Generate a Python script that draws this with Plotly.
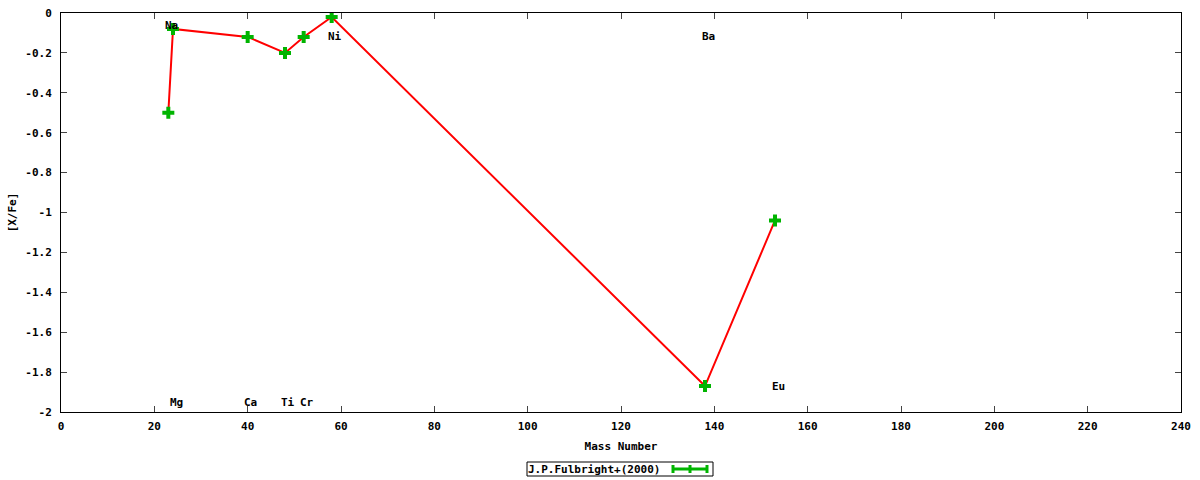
import plotly.graph_objects as go

# Data
elements = ["Na", "Mg", "Ca", "Ti", "Cr", "Ni", "Ba", "Eu"]
mass_number = [23, 24, 40, 48, 52, 58, 138, 153]
x_fe = [-0.50, -0.08, -0.12, -0.20, -0.12, -0.02, -1.87, -1.04]

label_x = [23, 24, 40, 48, 52, 58, 138, 153]
label_y = [-0.065, -1.95, -1.95, -1.95, -1.95, -0.12, -0.12, -1.87]

x_ticks = list(range(0, 241, 20))
y_ticks = [0, -0.2, -0.4, -0.6, -0.8, -1, -1.2, -1.4, -1.6, -1.8, -2]
y_tick_text = ["0", "-0.2", "-0.4", "-0.6", "-0.8", "-1", "-1.2", "-1.4", "-1.6", "-1.8", "-2"]

legend_label = "J.P.Fulbright+(2000)"

FONT = "DejaVu Sans Mono"
GREEN = "#00b400"

L, R, T, B = 61, 19, 13, 68
W, H = 1200, 480
PW, PH = W - L - R, H - T - B


def px(xp):
    return (xp - L) / PW


def py(yp):
    return (H - B - yp) / PH


fig = go.Figure()

fig.add_trace(go.Scatter(
    x=mass_number, y=x_fe, mode="lines",
    line=dict(color="#ff0000", width=2),
    showlegend=False, hoverinfo="skip",
))
fig.add_trace(go.Scatter(
    x=mass_number, y=x_fe, mode="markers",
    marker=dict(symbol="cross", size=10, color=GREEN, line=dict(width=0)),
    showlegend=False,
))

for el, lx, ly in zip(elements, label_x, label_y):
    fig.add_annotation(x=lx, y=ly, text=el, showarrow=False,
                       xanchor="center", yanchor="middle", xshift=3,
                       font=dict(family=FONT, size=11, color="black", weight="bold"))

# legend box (key)
fig.add_annotation(xref="paper", yref="paper", x=px(528), y=py(469),
                   text=legend_label, showarrow=False, xanchor="left", yanchor="middle",
                   xshift=-2,
                   font=dict(family=FONT, size=11, color="black", weight="bold"))
fig.add_shape(type="rect", xref="paper", yref="paper",
              x0=px(527), x1=px(713), y0=py(476), y1=py(462),
              line=dict(color="black", width=1))
fig.add_shape(type="line", xref="paper", yref="paper",
              x0=px(673), x1=px(707), y0=py(469), y1=py(469),
              line=dict(color=GREEN, width=3))
for xp in (673, 690, 707):
    fig.add_shape(type="line", xref="paper", yref="paper",
                  x0=px(xp), x1=px(xp), y0=py(473), y1=py(465),
                  line=dict(color=GREEN, width=3))

axis_font = dict(family=FONT, size=11, color="black", weight="bold")

fig.update_layout(
    width=W, height=H,
    margin=dict(l=L, r=R, t=T, b=B),
    paper_bgcolor="white", plot_bgcolor="white",
    font=dict(family=FONT, size=11, color="black"),
    xaxis=dict(
        range=[0, 240], tickvals=x_ticks, ticks="inside", ticklen=6,
        showline=True, mirror="ticks", linecolor="black", linewidth=1,
        showgrid=False, zeroline=False, tickfont=axis_font,
        ticklabelstandoff=4, automargin=False,
        title=dict(text="Mass Number", font=axis_font, standoff=10),
    ),
    yaxis=dict(
        range=[-2, 0], tickvals=y_ticks, ticktext=y_tick_text, ticks="inside", ticklen=6,
        showline=True, mirror="ticks", linecolor="black", linewidth=1,
        showgrid=False, zeroline=False, tickfont=axis_font,
        ticklabelstandoff=6, automargin=False,
        title=dict(text="[X/Fe]", font=axis_font, standoff=6),
    ),
)

fig.write_html("out.html", config={"displayModeBar": False},
               post_script="document.body.style.margin='0';document.body.style.padding='0';")
